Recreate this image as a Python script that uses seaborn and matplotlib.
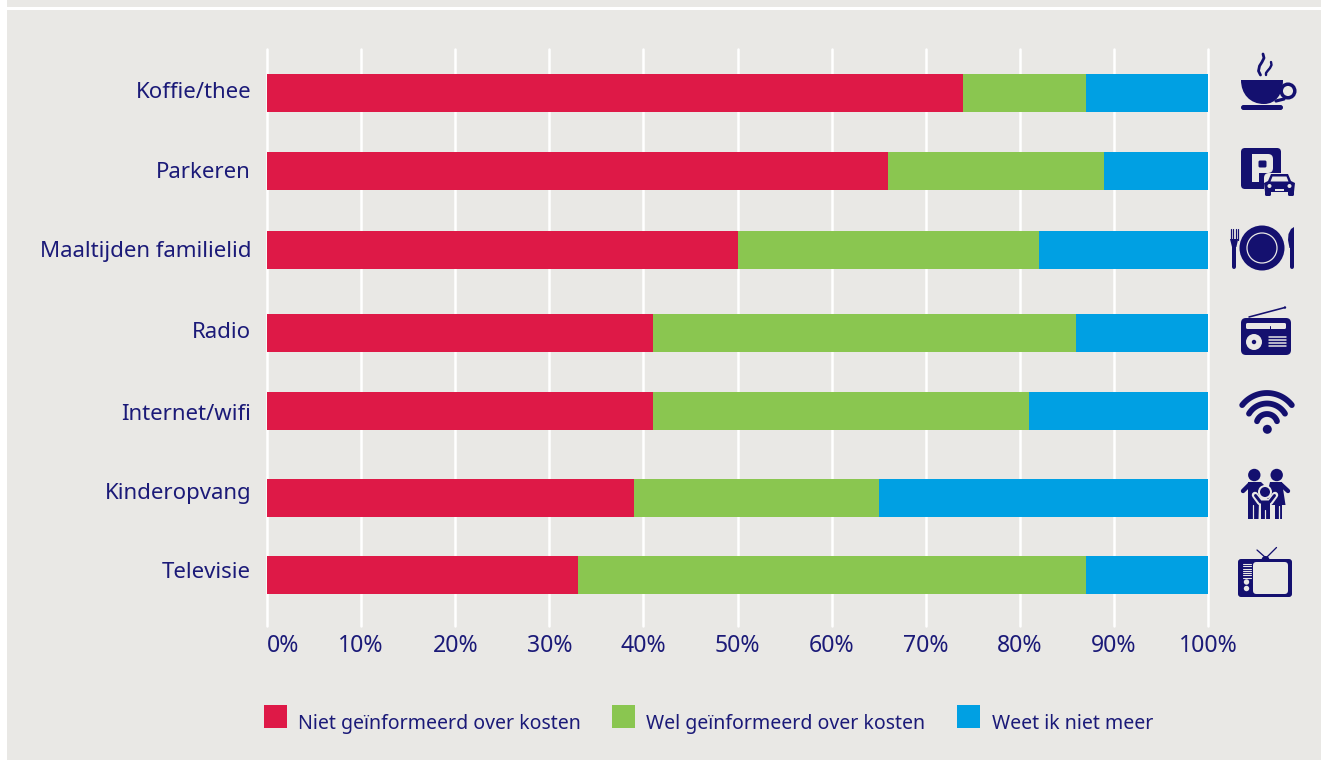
import numpy as np
import pandas as pd
import seaborn as sns
import matplotlib.pyplot as plt
from matplotlib.patches import Rectangle, Circle, Polygon, FancyBboxPatch, PathPatch
from matplotlib.path import Path

categories = ["Koffie/thee", "Parkeren", "Maaltijden familielid", "Radio",
              "Internet/wifi", "Kinderopvang", "Televisie"]
niet = [74, 66, 50, 41, 41, 39, 33]
wel = [13, 23, 32, 45, 40, 26, 54]
weet_niet = [13, 11, 18, 14, 19, 35, 13]
legend_labels = ["Niet geïnformeerd over kosten", "Wel geïnformeerd over kosten", "Weet ik niet meer"]
x_ticks = [0, 10, 20, 30, 40, 50, 60, 70, 80, 90, 100]

# rows are not evenly spaced in the original, labels don't quite line up with the bars either
row_y = [93, 171, 250, 333, 411, 498, 575]
label_y = [93, 173, 252, 333, 414, 493, 572]

RED = "#DE1947"
GREEN = "#8AC650"
BLUE = "#00A0E3"
BG = "#E9E8E5"
NAVY = "#14106F"
TEXT = "#1B1A78"

sns.set_theme(style="white")
plt.rcParams["font.family"] = ["Noto Sans", "DejaVu Sans"]

W, H = 1321, 760
fig = plt.figure(figsize=(W / 100, H / 100), dpi=100, facecolor="white")

# pixel canvas for the background, legend and icons
bgx = fig.add_axes([0, 0, 1, 1], zorder=0)
bgx.set_xlim(0, W)
bgx.set_ylim(H, 0)
bgx.set_axis_off()
bgx.add_patch(Rectangle((7, 0), W - 7, 7, color=BG, lw=0))
bgx.add_patch(Rectangle((7, 9.5), W - 7, H - 9.5, color=BG, lw=0))

ax = fig.add_axes([267 / W, (H - 626) / H, 941 / W, 577 / H], zorder=1)
ax.patch.set_alpha(0)

df = pd.DataFrame({"cat": categories, "y": row_y, "niet": niet, "wel": wel, "weet": weet_niet})
df["c2"] = df["niet"] + df["wel"]
df["c3"] = df["c2"] + df["weet"]

# stacked by drawing the longest layer first
for col, colr in [("c3", BLUE), ("c2", GREEN), ("niet", RED)]:
    sns.barplot(data=df, x=col, y="y", orient="y", native_scale=True, color=colr,
                saturation=1, width=38 / 78, errorbar=None, linewidth=0, ax=ax, zorder=3)

ax.set_xlim(0, 100)
ax.set_ylim(626, 49)
ax.set_xlabel("")
ax.set_ylabel("")
ax.set_yticks(label_y)
ax.set_yticklabels(categories, fontsize=16, color=TEXT)
ax.set_xticks(x_ticks)
ax.set_xticklabels([f"{v}%" for v in x_ticks], fontsize=16.6, color=TEXT)
ax.get_xticklabels()[0].set_ha("left")
ax.tick_params(axis="y", length=0, pad=11.5)
ax.tick_params(axis="x", length=0, pad=5.5)
for lab in ax.get_yticklabels():
    lab.set_va("center")
ax.grid(axis="x", color="white", lw=1.8, zorder=1)
ax.set_axisbelow(True)
for ln in ax.get_xgridlines():
    ln.set_clip_on(False)
sns.despine(ax=ax, left=True, bottom=True)

# legend
for x0, tx, colr, lab in zip([264, 612, 957], [298, 645.5, 992], [RED, GREEN, BLUE], legend_labels):
    bgx.add_patch(Rectangle((x0, 705), 23, 23, color=colr, lw=0))
    bgx.text(tx, 724, lab, fontsize=14.05, color=TEXT, va="center", ha="left")


def rbox(x0, y0, x1, y1, r, color=NAVY, z=2):
    bgx.add_patch(FancyBboxPatch((x0 + r, y0 + r), x1 - x0 - 2 * r, y1 - y0 - 2 * r,
                                 boxstyle=f"round,pad={r}", fc=color, ec="none", zorder=z))


def stroke(xs, ys, lw, color=NAVY, z=2):
    bgx.plot(xs, ys, color=color, lw=lw * 0.72, solid_capstyle="round", solid_joinstyle="round", zorder=z)


def poly(pts, color=NAVY, z=2):
    bgx.add_patch(Polygon(pts, closed=True, fc=color, ec="none", zorder=z))


def disc(x, y, r, color=NAVY, z=2):
    bgx.add_patch(Circle((x, y), r, fc=color, ec="none", zorder=z))


def coffee():
    bgx.add_patch(PathPatch(Path([(1241, 80), (1283, 80), (1283, 94), (1276, 104), (1264, 104),
                                  (1250, 104), (1241, 94), (1241, 80), (1241, 80)],
                                 [1, 2, 4, 4, 4, 4, 4, 4, 79]), fc=NAVY, ec="none", zorder=2))
    bgx.add_patch(Circle((1288, 91), 6.8, fc="none", ec=NAVY, lw=2.5, zorder=2))
    stroke([1284, 1276], [99, 101], 3.2)
    rbox(1241, 105, 1283, 110, 2.5)
    # steam
    stroke([1263, 1264, 1262, 1259.5, 1258.5, 1260.5], [54, 58, 62, 66, 71, 75], 2.8)
    stroke([1271, 1271.5, 1270, 1267.5, 1266, 1266], [62, 65, 68, 71, 73, 75], 2.4)


def parking():
    rbox(1241, 148, 1281, 189, 4)
    rbox(1252, 154, 1273, 173, 5, color=BG, z=3)
    poly([(1252, 154), (1258.5, 154), (1258.5, 182), (1252, 182)], color=BG, z=3)
    rbox(1258.5, 160.5, 1266.5, 167.5, 1.5, z=4)
    # car with a light halo
    rbox(1264, 173, 1297, 197, 5, color=BG, z=5)
    rbox(1265, 184, 1271, 196, 1.5, z=6)
    rbox(1288, 184, 1294, 196, 1.5, z=6)
    poly([(1271, 174), (1288, 174), (1291, 181), (1295, 183), (1294, 192), (1265, 192), (1264, 183), (1268, 181)], z=6)
    poly([(1272.5, 176.5), (1286.5, 176.5), (1288.5, 181.5), (1270.5, 181.5)], color=BG, z=7)
    disc(1269.5, 186, 2, color=BG, z=7)
    disc(1289.5, 186, 2, color=BG, z=7)
    poly([(1275, 189), (1284, 189), (1284, 191), (1275, 191)], color=BG, z=7)


def plate():
    disc(1262, 248, 22.5)
    bgx.add_patch(Circle((1262, 248), 15, fc="none", ec=BG, lw=0.9, zorder=3))
    # fork
    for fx in [1230.5, 1233, 1235.5, 1237.5]:
        stroke([fx, fx], [229, 240], 1.2)
    poly([(1230, 239), (1238.2, 239), (1236.4, 247), (1232, 247)])
    stroke([1234.2, 1234.2], [245, 267], 4)
    # knife
    poly([(1294, 227), (1291, 229), (1288.5, 234), (1288, 240), (1289.5, 248), (1294, 248)])
    stroke([1292, 1292], [247, 267], 4)


def radio():
    rbox(1241, 318, 1291, 355, 5)
    stroke([1249, 1285], [317, 307.5], 1.6)
    disc(1285, 307.5, 1.2)
    rbox(1246, 323, 1286, 329, 1.5, color=BG, z=3)
    stroke([1270, 1270], [326, 329.5], 1, z=4)
    disc(1254, 342, 8, color=BG, z=3)
    disc(1254, 342, 2.2, z=4)
    for gy in [337, 340, 343, 346]:
        stroke([1268.5, 1285.5], [gy, gy], 1.5, color=BG, z=3)


def wifi():
    for r, ang in [(31.5, 52), (21, 59), (10.5, 72)]:
        t = np.radians(np.linspace(-ang, ang, 40))
        stroke(1267 + r * np.sin(t), 424.5 - r * np.cos(t), 5.8)
    disc(1267.3, 429.3, 4.5)


def family():
    disc(1254.3, 475, 6.2)
    disc(1276.7, 475, 6.2)
    # left adult
    poly([(1248, 482), (1261, 482), (1266, 487), (1259, 500), (1258.5, 519), (1248, 519)])
    stroke([1249.5, 1243], [484.5, 491], 4.4)
    # right adult with dress
    poly([(1270, 482), (1282, 482), (1285.5, 505), (1266, 505), (1268, 490)])
    poly([(1275, 505), (1282, 505), (1282, 519), (1275, 519)])
    stroke([1281, 1288], [484.5, 491], 4.4)
    stroke([1278.5, 1278.5], [506, 519], 1.2, color=BG, z=3)
    stroke([1253.3, 1253.3], [505, 519], 1.2, color=BG, z=3)
    # child, light halo around head and arms
    stroke([1255, 1260, 1270, 1275], [495, 502, 502, 495], 6.5, color=BG, z=3)
    disc(1265, 492, 7, color=BG, z=3)
    disc(1265, 492, 5, z=4)
    stroke([1255.5, 1260.5, 1269.5, 1274.5], [495.5, 502, 502, 495.5], 3, z=4)
    poly([(1260.5, 501), (1269.5, 501), (1269.5, 519), (1260.5, 519)], z=4)
    stroke([1265, 1265], [510, 519], 1.2, color=BG, z=5)


def tv():
    rbox(1238, 559, 1292, 597, 3)
    stroke([1266, 1257], [558, 550], 1.3)
    stroke([1266, 1276.5], [558, 547.5], 1.3)
    disc(1265.5, 560, 4)
    rbox(1253, 562, 1288, 594, 3.5, color=BG, z=3)
    for gy in np.arange(564, 578, 2.3):
        stroke([1243, 1250.5], [gy, gy], 1.1, color=BG, z=3)
    disc(1246.5, 582, 2.7, color=BG, z=3)
    disc(1246.5, 588.5, 2.7, color=BG, z=3)


for draw in [coffee, parking, plate, radio, wifi, family, tv]:
    draw()

fig.savefig("out.png", dpi=100, facecolor="white")
